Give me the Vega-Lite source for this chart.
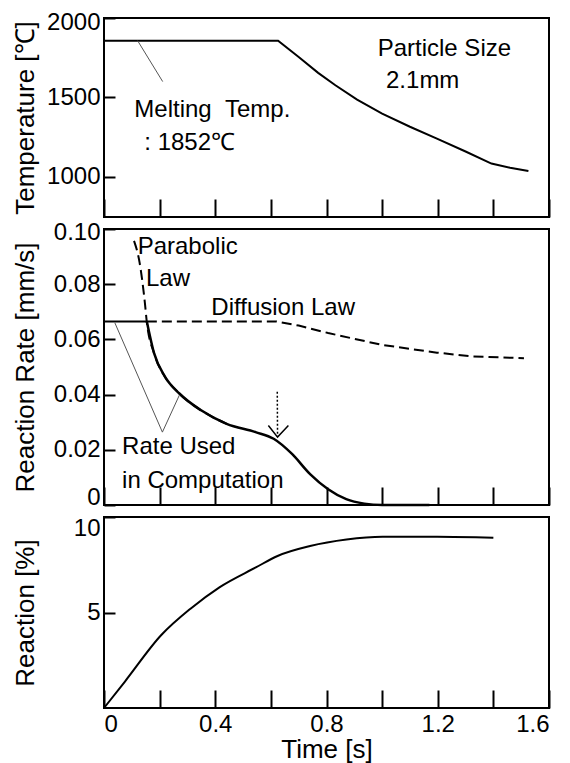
{
  "$schema": "https://vega.github.io/schema/vega-lite/v6.json",
  "padding": {"left": 10, "top": 9, "right": 5, "bottom": 0},
  "background": "white",
  "spacing": 12,
  "bounds": "flush",
  "config": {
    "font": "Liberation Sans",
    "view": {"stroke": "#000", "strokeWidth": 2},
    "axis": {
      "labelFont": "Liberation Sans", "titleFont": "Liberation Sans",
      "labelFontSize": 24, "titleFontSize": 26, "titleFontWeight": "normal",
      "labelColor": "#000", "titleColor": "#000", "tickColor": "#000",
      "tickWidth": 2, "grid": false, "domain": false
    },
    "axisY": {"tickSize": -11, "labelPadding": 15, "titleX": -66},
    "axisX": {"tickSize": -18, "labelPadding": 22, "titlePadding": 0}
  },
  "datasets": {
    "temp": [
      {"t": 0, "v": 1857, "s": "curve"},
      {"t": 0.626, "v": 1857, "s": "curve"},
      {"t": 0.70, "v": 1755, "s": "curve"},
      {"t": 0.77, "v": 1655, "s": "curve"},
      {"t": 0.832, "v": 1577, "s": "curve"},
      {"t": 0.91, "v": 1487, "s": "curve"},
      {"t": 1.0, "v": 1398, "s": "curve"},
      {"t": 1.1, "v": 1316, "s": "curve"},
      {"t": 1.197, "v": 1241, "s": "curve"},
      {"t": 1.30, "v": 1160, "s": "curve"},
      {"t": 1.393, "v": 1084, "s": "curve"},
      {"t": 1.46, "v": 1058, "s": "curve"},
      {"t": 1.526, "v": 1038, "s": "curve"},
      {"t": 0.121, "v": 1857, "s": "pointer"},
      {"t": 0.211, "v": 1600, "s": "pointer"}
    ],
    "notes1": [
      {"t": 0.109, "v": 1379, "label": "Melting\u00a0\u00a0Temp."},
      {"t": 0.145, "v": 1169, "label": ": 1852℃"},
      {"t": 0.984, "v": 1758, "label": "Particle Size"},
      {"t": 1.014, "v": 1558, "label": "2.1mm"}
    ],
    "rate": [
      {"t": 0, "v": 0.0665, "s": "flat"},
      {"t": 0.154, "v": 0.0665, "s": "flat"},
      {"t": 0.154, "v": 0.0665, "s": "used"},
      {"t": 0.180, "v": 0.055, "s": "used"},
      {"t": 0.219, "v": 0.0465, "s": "used"},
      {"t": 0.271, "v": 0.0404, "s": "used"},
      {"t": 0.349, "v": 0.0343, "s": "used"},
      {"t": 0.441, "v": 0.0294, "s": "used"},
      {"t": 0.545, "v": 0.0264, "s": "used"},
      {"t": 0.610, "v": 0.0240, "s": "used"},
      {"t": 0.676, "v": 0.0185, "s": "used"},
      {"t": 0.741, "v": 0.0112, "s": "used"},
      {"t": 0.806, "v": 0.0057, "s": "used"},
      {"t": 0.871, "v": 0.0021, "s": "used"},
      {"t": 0.936, "v": 0.0005, "s": "used"},
      {"t": 1.0, "v": 0.0, "s": "used"},
      {"t": 1.17, "v": 0.0, "s": "used"},
      {"t": 0.108, "v": 0.0957, "s": "parabolic"},
      {"t": 0.128, "v": 0.0878, "s": "parabolic"},
      {"t": 0.147, "v": 0.0732, "s": "parabolic"},
      {"t": 0.154, "v": 0.0662, "s": "parabolic"},
      {"t": 0.180, "v": 0.055, "s": "parabolic"},
      {"t": 0.219, "v": 0.0465, "s": "parabolic"},
      {"t": 0.271, "v": 0.0404, "s": "parabolic"},
      {"t": 0.349, "v": 0.0343, "s": "parabolic"},
      {"t": 0.441, "v": 0.0294, "s": "parabolic"},
      {"t": 0.154, "v": 0.0665, "s": "diffusion"},
      {"t": 0.62, "v": 0.0665, "s": "diffusion"},
      {"t": 0.70, "v": 0.0650, "s": "diffusion"},
      {"t": 0.806, "v": 0.0623, "s": "diffusion"},
      {"t": 1.0, "v": 0.058, "s": "diffusion"},
      {"t": 1.197, "v": 0.0552, "s": "diffusion"},
      {"t": 1.327, "v": 0.0538, "s": "diffusion"},
      {"t": 1.51, "v": 0.0532, "s": "diffusion"},
      {"t": 0.623, "v": 0.041, "s": "arrow"},
      {"t": 0.624, "v": 0.0246, "s": "arrow"},
      {"t": 0.591, "v": 0.0288, "s": "arrowhead"},
      {"t": 0.624, "v": 0.0246, "s": "arrowhead"},
      {"t": 0.663, "v": 0.0288, "s": "arrowhead"},
      {"t": 0.039, "v": 0.066, "s": "pointer"},
      {"t": 0.210, "v": 0.0264, "s": "pointer"},
      {"t": 0.271, "v": 0.0398, "s": "pointer"}
    ],
    "notes2": [
      {"t": 0.121, "v": 0.0909, "label": "Parabolic"},
      {"t": 0.151, "v": 0.0793, "label": "Law"},
      {"t": 0.386, "v": 0.069, "label": "Diffusion Law"},
      {"t": 0.065, "v": 0.0185, "label": "Rate Used"},
      {"t": 0.065, "v": 0.0063, "label": "in Computation"}
    ],
    "reaction": [
      {"t": 0, "v": 0},
      {"t": 0.076, "v": 1.40},
      {"t": 0.206, "v": 3.82},
      {"t": 0.311, "v": 5.20},
      {"t": 0.415, "v": 6.32},
      {"t": 0.546, "v": 7.36},
      {"t": 0.624, "v": 7.96},
      {"t": 0.741, "v": 8.48},
      {"t": 0.872, "v": 8.82},
      {"t": 1.002, "v": 8.96},
      {"t": 1.198, "v": 8.96},
      {"t": 1.400, "v": 8.91}
    ]
  },
  "vconcat": [
    {
      "width": 445, "height": 199,
      "layer": [
        {
          "data": {"name": "temp"},
          "transform": [{"filter": "datum.s == 'curve'"}],
          "mark": {"type": "line", "color": "#000", "strokeWidth": 2},
          "encoding": {
            "x": {"field": "t", "type": "quantitative", "scale": {"domain": [0, 1.6], "nice": false},
                  "axis": {"values": [0, 0.2, 0.4, 0.6, 0.8, 1.0, 1.2, 1.4, 1.6], "labels": false, "labelPadding": 0, "title": null}},
            "y": {"field": "v", "type": "quantitative", "scale": {"domain": [748, 2000], "nice": false, "zero": false},
                  "axis": {"values": [1000, 1500, 2000], "format": "d", "title": "Temperature [℃]",
                           "labelOffset": {"expr": "datum.value == 2000 ? 4 : 0"}}}
          }
        },
        {
          "data": {"name": "temp"},
          "transform": [{"filter": "datum.s == 'pointer'"}],
          "mark": {"type": "line", "color": "#555", "strokeWidth": 1},
          "encoding": {"x": {"field": "t", "type": "quantitative"}, "y": {"field": "v", "type": "quantitative"}}
        },
        {
          "data": {"name": "notes1"},
          "mark": {"type": "text", "align": "left", "baseline": "alphabetic", "fontSize": 24, "font": "Liberation Sans", "color": "#000"},
          "encoding": {"x": {"field": "t", "type": "quantitative"}, "y": {"field": "v", "type": "quantitative"}, "text": {"field": "label"}}
        }
      ]
    },
    {
      "width": 445, "height": 276,
      "layer": [
        {
          "data": {"name": "rate"},
          "transform": [{"filter": "datum.s == 'flat'"}],
          "mark": {"type": "line", "color": "#000", "strokeWidth": 2},
          "encoding": {
            "x": {"field": "t", "type": "quantitative", "scale": {"domain": [0, 1.6], "nice": false},
                  "axis": {"values": [0, 0.2, 0.4, 0.6, 0.8, 1.0, 1.2, 1.4, 1.6], "labels": false, "labelPadding": 0, "title": null}},
            "y": {"field": "v", "type": "quantitative", "scale": {"domain": [0, 0.1], "nice": false},
                  "axis": {"values": [0, 0.02, 0.04, 0.06, 0.08, 0.1], "labelExpr": "datum.value == 0 ? '0' : format(datum.value, '.2f')", "title": "Reaction Rate [mm/s]",
                           "labelOffset": {"expr": "datum.value == 0 ? -8 : (datum.value > 0.09 ? 3 : 0)"}}}
          }
        },
        {
          "data": {"name": "rate"},
          "transform": [{"filter": "datum.s == 'used'"}],
          "mark": {"type": "line", "color": "#000", "strokeWidth": 2.5, "interpolate": "monotone"},
          "encoding": {"x": {"field": "t", "type": "quantitative"}, "y": {"field": "v", "type": "quantitative"}}
        },
        {
          "data": {"name": "rate"},
          "transform": [{"filter": "datum.s == 'parabolic'"}],
          "mark": {"type": "line", "color": "#000", "strokeWidth": 2, "strokeDash": [10, 5], "interpolate": "monotone"},
          "encoding": {"x": {"field": "t", "type": "quantitative"}, "y": {"field": "v", "type": "quantitative"}}
        },
        {
          "data": {"name": "rate"},
          "transform": [{"filter": "datum.s == 'diffusion'"}],
          "mark": {"type": "line", "color": "#000", "strokeWidth": 2, "strokeDash": [10, 5]},
          "encoding": {"x": {"field": "t", "type": "quantitative"}, "y": {"field": "v", "type": "quantitative"}}
        },
        {
          "data": {"name": "rate"},
          "transform": [{"filter": "datum.s == 'arrow'"}],
          "mark": {"type": "line", "color": "#000", "strokeWidth": 1.5, "strokeDash": [2, 2]},
          "encoding": {"x": {"field": "t", "type": "quantitative"}, "y": {"field": "v", "type": "quantitative"}}
        },
        {
          "data": {"name": "rate"},
          "transform": [{"filter": "datum.s == 'arrowhead'"}],
          "mark": {"type": "line", "color": "#000", "strokeWidth": 1.5},
          "encoding": {"x": {"field": "t", "type": "quantitative"}, "y": {"field": "v", "type": "quantitative"}}
        },
        {
          "data": {"name": "rate"},
          "transform": [{"filter": "datum.s == 'pointer'"}],
          "mark": {"type": "line", "color": "#555", "strokeWidth": 1},
          "encoding": {"x": {"field": "t", "type": "quantitative"}, "y": {"field": "v", "type": "quantitative"}}
        },
        {
          "data": {"name": "notes2"},
          "mark": {"type": "text", "align": "left", "baseline": "alphabetic", "fontSize": 24, "font": "Liberation Sans", "color": "#000"},
          "encoding": {"x": {"field": "t", "type": "quantitative"}, "y": {"field": "v", "type": "quantitative"}, "text": {"field": "label"}}
        }
      ]
    },
    {
      "width": 445, "height": 191,
      "data": {"name": "reaction"},
      "mark": {"type": "line", "color": "#000", "strokeWidth": 2, "interpolate": "monotone"},
      "encoding": {
        "x": {"field": "t", "type": "quantitative", "scale": {"domain": [0, 1.6], "nice": false},
              "axis": {"values": [0, 0.2, 0.4, 0.6, 0.8, 1.0, 1.2, 1.4, 1.6], "labelExpr": "round(datum.value * 10) % 4 == 0 ? toString(datum.value) : ''", "title": "Time [s]"}},
        "y": {"field": "v", "type": "quantitative", "scale": {"domain": [0, 10], "nice": false},
              "axis": {"values": [5, 10], "title": "Reaction [%]",
                       "labelOffset": {"expr": "datum.value == 10 ? 11 : 0"}}}
      }
    }
  ]
}
